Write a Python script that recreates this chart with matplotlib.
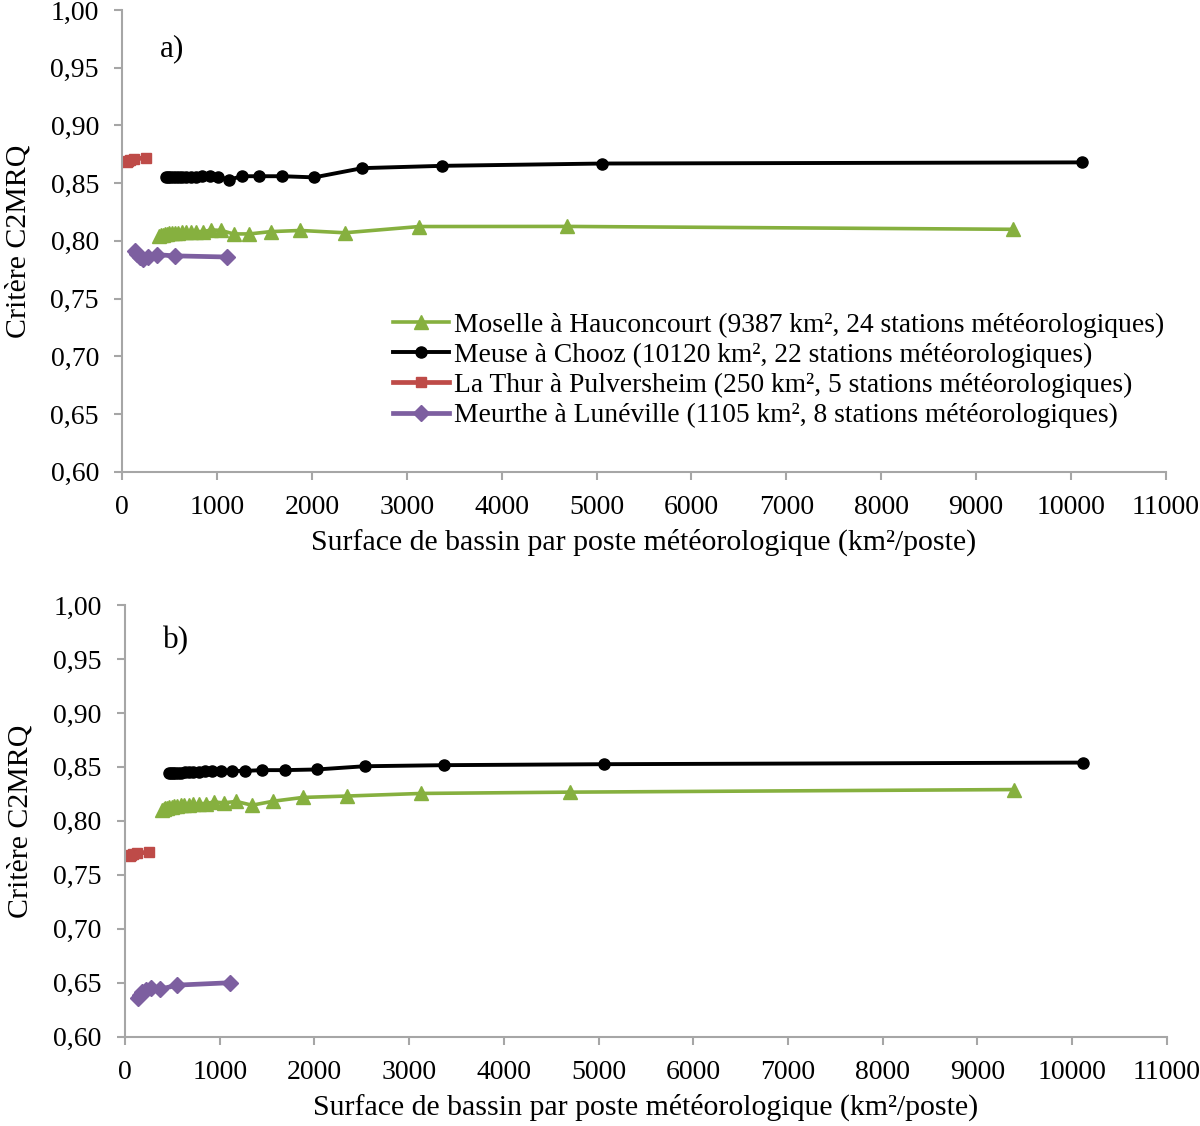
import matplotlib
matplotlib.use("Agg")
import matplotlib.pyplot as plt
from matplotlib.ticker import FuncFormatter

plt.rcParams["font.family"] = ["Liberation Serif", "DejaVu Serif"]

# surface de bassin par poste (km²/poste)
moselle_x = [9387, 4693.5, 3129, 2346.75, 1877.4, 1564.5, 1341, 1173.4, 1043, 938.7,
             853.4, 782.25, 722.1, 670.5, 625.8, 586.7, 552.2, 521.5, 494.1, 469.35,
             447, 426.7, 408.1, 391.1]
meuse_x = [10120, 5060, 3373.3, 2530, 2024, 1686.7, 1445.7, 1265, 1124.4, 1012,
           920, 843.3, 778.5, 722.9, 674.7, 632.5, 595.3, 562.2, 532.6, 506, 481.9, 460]
thur_x = [250, 125, 83.3, 62.5, 50]
meurthe_x = [1105, 552.5, 368.3, 276.25, 221, 184.2, 157.9, 138.1]

# a) critère C2MRQ
moselle_a = [0.810, 0.8125, 0.8124, 0.807, 0.809, 0.808, 0.806, 0.806, 0.809, 0.8095,
             0.808, 0.808, 0.808, 0.8075, 0.8075, 0.807, 0.807, 0.807, 0.8065, 0.806,
             0.806, 0.8055, 0.805, 0.804]
meuse_a = [0.868, 0.867, 0.865, 0.863, 0.855, 0.856, 0.856, 0.856, 0.853, 0.8555,
           0.856, 0.856, 0.8555, 0.8555, 0.855, 0.855, 0.855, 0.855, 0.855, 0.855, 0.855, 0.855]
thur_a = [0.872, 0.871, 0.870, 0.869, 0.868]
meurthe_a = [0.786, 0.787, 0.788, 0.786, 0.784, 0.786, 0.789, 0.791]

# b) critère C2MRQ
moselle_b = [0.829, 0.8266, 0.8254, 0.823, 0.8217, 0.8182, 0.8145, 0.818, 0.8167, 0.8175,
             0.816, 0.816, 0.8155, 0.815, 0.815, 0.8145, 0.814, 0.8135, 0.813, 0.8125,
             0.812, 0.8115, 0.811, 0.810]
meuse_b = [0.854, 0.8525, 0.8516, 0.8506, 0.8476, 0.847, 0.847, 0.8463, 0.8463, 0.846,
           0.846, 0.8458, 0.8455, 0.8453, 0.845, 0.845, 0.8448, 0.8445, 0.8443, 0.8441, 0.844, 0.8439]
thur_b = [0.771, 0.770, 0.769, 0.768, 0.767]
meurthe_b = [0.650, 0.6478, 0.644, 0.645, 0.643, 0.641, 0.6387, 0.6356]

labels = ["Moselle à Hauconcourt (9387 km², 24 stations météorologiques)",
          "Meuse à Chooz (10120 km², 22 stations météorologiques)",
          "La Thur à Pulversheim (250 km², 5 stations météorologiques)",
          "Meurthe à Lunéville (1105 km², 8 stations météorologiques)"]

green = "#86B03F"
red = "#BE4B48"
purple = "#7D5FA0"
grey = "#A6A6A6"
fs = 21.5
fs_tick = 20
fs_leg = 19.8

fig = plt.figure(figsize=(12, 11.26), dpi=100)
ax_a = fig.add_axes([0.1019, 0.5811, 0.8695, 0.4100])
ax_b = fig.add_axes([0.1042, 0.0793, 0.8681, 0.3834])

panels = [(ax_a, moselle_a, meuse_a, thur_a, meurthe_a, "a)"),
          (ax_b, moselle_b, meuse_b, thur_b, meurthe_b, "b)")]

for ax, mo, me, th, mu, tag in panels:
    ax.plot(moselle_x, mo, color=green, lw=2.6, marker="^", ms=10, label=labels[0])
    ax.plot(meuse_x, me, color="black", lw=2.8, marker="o", ms=8, label=labels[1])
    ax.plot(thur_x, th, color=red, lw=3.4, marker="s", ms=7.5, label=labels[2])
    ax.plot(meurthe_x, mu, color=purple, lw=3.4, marker="D", ms=8.5, label=labels[3])

    ax.set_xlim(0, 11000)
    ax.set_ylim(0.60, 1.00)
    ax.set_xticks(range(0, 11001, 1000))
    ax.set_yticks([0.60, 0.65, 0.70, 0.75, 0.80, 0.85, 0.90, 0.95, 1.00])
    ax.yaxis.set_major_formatter(FuncFormatter(lambda v, p: f"{v:.2f}".replace(".", ",")))
    for s in ["top", "right"]:
        ax.spines[s].set_visible(False)
    for s in ["left", "bottom"]:
        ax.spines[s].set_color(grey)
        ax.spines[s].set_linewidth(1.5)
    ax.tick_params(axis="both", colors=grey, labelcolor="black", labelsize=fs_tick,
                   length=5.8, width=1.5, direction="out", pad=11)
    ax.set_xlabel("Surface de bassin par poste météorologique (km²/poste)", fontsize=fs, labelpad=6)
    ax.set_ylabel("Critère C2MRQ", fontsize=fs, labelpad=14)
    ax.text(400, 0.96, tag, fontsize=fs + 1)

ax_a.legend(loc="upper left", bbox_to_anchor=(0.259, 0.345), frameon=False, fontsize=fs_leg,
            handlelength=2.07, handletextpad=0.18, labelspacing=0.18, borderaxespad=0,
            borderpad=0)

fig.savefig("out.png", dpi=100)
